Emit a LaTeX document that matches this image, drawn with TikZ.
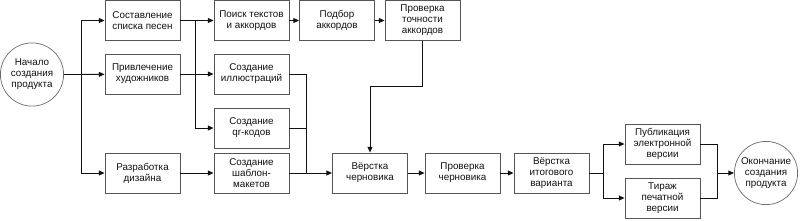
\documentclass[tikz,border=0pt]{standalone}
\usepackage{fontspec}
\setmainfont{Liberation Sans}
\usepackage{xcolor}
\definecolor{inkblack}{HTML}{111111}
\definecolor{boxgray}{HTML}{555555}
\definecolor{ringgray}{HTML}{6B6B6B}
\usepackage{tikz}
\usetikzlibrary{arrows.meta, positioning, calc}
\tikzset{
  pbox/.style ={rectangle, draw=boxgray, line width=0.6pt, fill=white, text=inkblack, align=center,
                inner sep=1pt, minimum width=1.875cm, minimum height=1cm, font=\fontsize{7}{7.8}\selectfont},
  pring/.style={circle, draw=ringgray, line width=0.5pt, fill=white, text=inkblack, align=center,
                inner sep=0pt, minimum size=1.58cm, font=\fontsize{7}{7.8}\selectfont},
  pline/.style={line width=0.7pt, color=inkblack},
  parr/.style ={-{Triangle[length=1.4mm, width=1.2mm]}, line width=0.7pt, color=inkblack},
}
\begin{document}
\begin{tikzpicture}[x=0.025cm, y=-0.025cm]
  \useasboundingbox (0,0) rectangle (800,220);
  % start and first column
  \node[pring] (start) at (32,74.5) {Начало\\создания\\продукта};
  \node[pbox] (sostav) at (142.5,20.5) {Составление\\списка песен};
  \node[pbox] (privl) at (142.5,74) {Привлечение\\художников};
  \node[pbox] (razrab) at (142.5,173) {Разработка\\дизайна};
  % second column
  \node[pbox] (poisk) at (251.5,20.5) {Поиск текстов\\и аккордов};
  \node[pbox] (illus) at (251.5,74) {Создание\\иллюстраций};
  \node[pbox] (qrkod) at (251.5,128) {Создание\\qr-кодов};
  \node[pbox] (shablon) at (251.5,173) {Создание\\шаблон-\\макетов};
  % chords
  \node[pbox] (podbor) at (337,20.5) {Подбор\\аккордов};
  \node[pbox] (tochn) at (422.5,20.5) {Проверка\\точности\\аккордов};
  % bottom row
  \node[pbox] (chern) at (370,173) {Вёрстка\\черновика};
  \node[pbox] (provch) at (462.5,173) {Проверка\\черновика};
  \node[pbox] (itog) at (551.5,173) {Вёрстка\\итогового\\варианта};
  \node[pbox] (publ) at (662.5,144) {Публикация\\электронной\\версии};
  \node[pbox] (tiraj) at (662.5,198) {Тираж\\печатной\\версии};
  \node[pring] (finish) at (766,173) {Окончание\\создания\\продукта};
  % branch points
  \coordinate (b1) at (81,74.5);
  \coordinate (b2) at (195,20.5);
  \coordinate (m1) at (306,173);
  \coordinate (b3) at (603,173);
  \coordinate (m2) at (717,173);
  % connectors
  \draw[pline] (start.east) -- (b1);
  \draw[parr] (b1) |- (sostav);
  \draw[parr] (b1) -- (privl);
  \draw[parr] (b1) |- (razrab);
  \draw[pline] (sostav.east) -- (b2);
  \draw[parr] (b2) -- (poisk);
  \draw[parr] (b2) |- (qrkod);
  \draw[parr] (privl) -- (illus);
  \draw[parr] (razrab) -- (shablon);
  \draw[parr] (poisk) -- (podbor);
  \draw[parr] (podbor) -- (tochn);
  \draw[pline] (illus.east) -| (m1);
  \draw[pline] (qrkod.east) -| (m1);
  \draw[parr] (shablon) -- (chern);
  \draw[parr] (tochn.south) -- ++(0,46) -| (chern.north);
  \draw[parr] (chern) -- (provch);
  \draw[parr] (provch) -- (itog);
  \draw[pline] (itog.east) -- (b3);
  \draw[parr] (b3) |- (publ);
  \draw[parr] (b3) |- (tiraj);
  \draw[pline] (publ.east) -| (m2);
  \draw[pline] (tiraj.east) -| (m2);
  \draw[parr] (m2) -- (finish);
\end{tikzpicture}
\end{document}
